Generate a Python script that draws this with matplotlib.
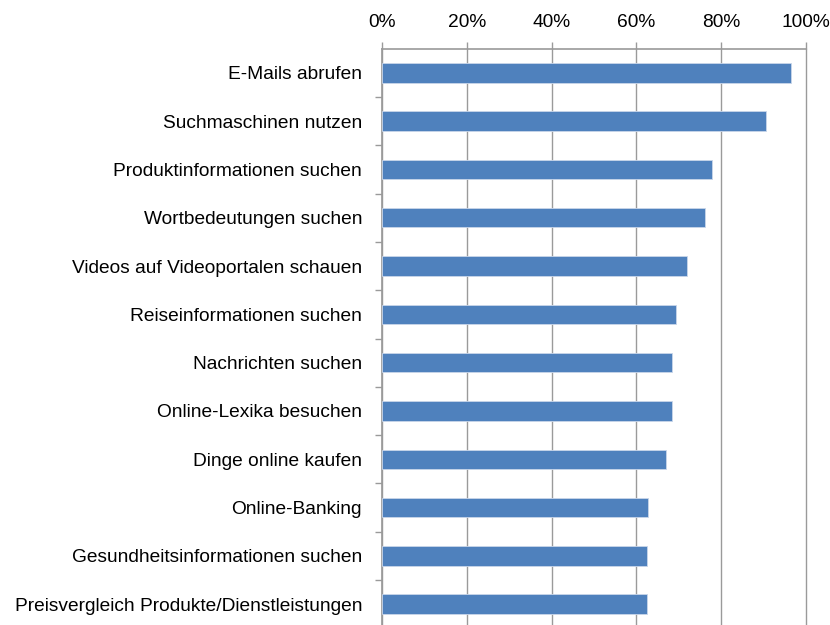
import matplotlib
matplotlib.use("Agg")
import matplotlib.pyplot as plt
import numpy as np
from matplotlib.ticker import FixedLocator, PercentFormatter

# categories, top to bottom as in the chart
categories = [
    "E-Mails abrufen",
    "Suchmaschinen nutzen",
    "Produktinformationen suchen",
    "Wortbedeutungen suchen",
    "Videos auf Videoportalen schauen",
    "Reiseinformationen suchen",
    "Nachrichten suchen",
    "Online-Lexika besuchen",
    "Dinge online kaufen",
    "Online-Banking",
    "Gesundheitsinformationen suchen",
    "Preisvergleich Produkte/Dienstleistungen",
]
shares = [96.5, 90.5, 77.8, 76.1, 71.9, 69.4, 68.4, 68.4, 66.9, 62.8, 62.6, 62.6]
x_ticks = [0, 20, 40, 60, 80, 100]

plt.rcParams['font.family'] = ['Liberation Sans', 'DejaVu Sans']

fig = plt.figure(figsize=(8.3, 6.25), dpi=100)
# axes box in figure coords (bottom runs just past the image edge)
ax = fig.add_axes([382 / 830, -3.3 / 625, 424 / 830, 579.6 / 625])

pos = np.arange(len(categories))
ax.barh(pos, shares, height=0.4, color="#4F81BD", edgecolor="#C9D6EA",
        linewidth=0.6, zorder=3)
ax.set_axisbelow(True)

ax.set_xlim(0, 100)
ax.set_ylim(len(categories) - 0.5, -0.5)

# x axis on top, with percent labels
ax.xaxis.tick_top()
ax.set_xticks(x_ticks)
ax.xaxis.set_major_formatter(PercentFormatter(decimals=0))
ax.tick_params(axis="x", which="major", direction="out", length=5,
               width=1, color="#9A9A9A", pad=7.5, labelsize=13.8)
ax.grid(axis="x", color="#9A9A9A", linewidth=1.0)
for line in ax.get_xgridlines():
    line.set_clip_on(False)

# category labels at bar centres, tick marks between categories
ax.set_yticks(pos)
ax.set_yticklabels(categories)
ax.yaxis.set_minor_locator(FixedLocator(pos[:-1] + 0.5))
ax.tick_params(axis="y", which="major", length=0, pad=14.4, labelsize=13.8)
ax.tick_params(axis="y", which="minor", direction="out", length=5,
               width=1, color="#9A9A9A")

for side in ["right", "bottom"]:
    ax.spines[side].set_visible(False)
for side in ["left", "top"]:
    ax.spines[side].set_color("#9A9A9A")
    ax.spines[side].set_linewidth(1.2)

fig.savefig("out.png", dpi=100)
